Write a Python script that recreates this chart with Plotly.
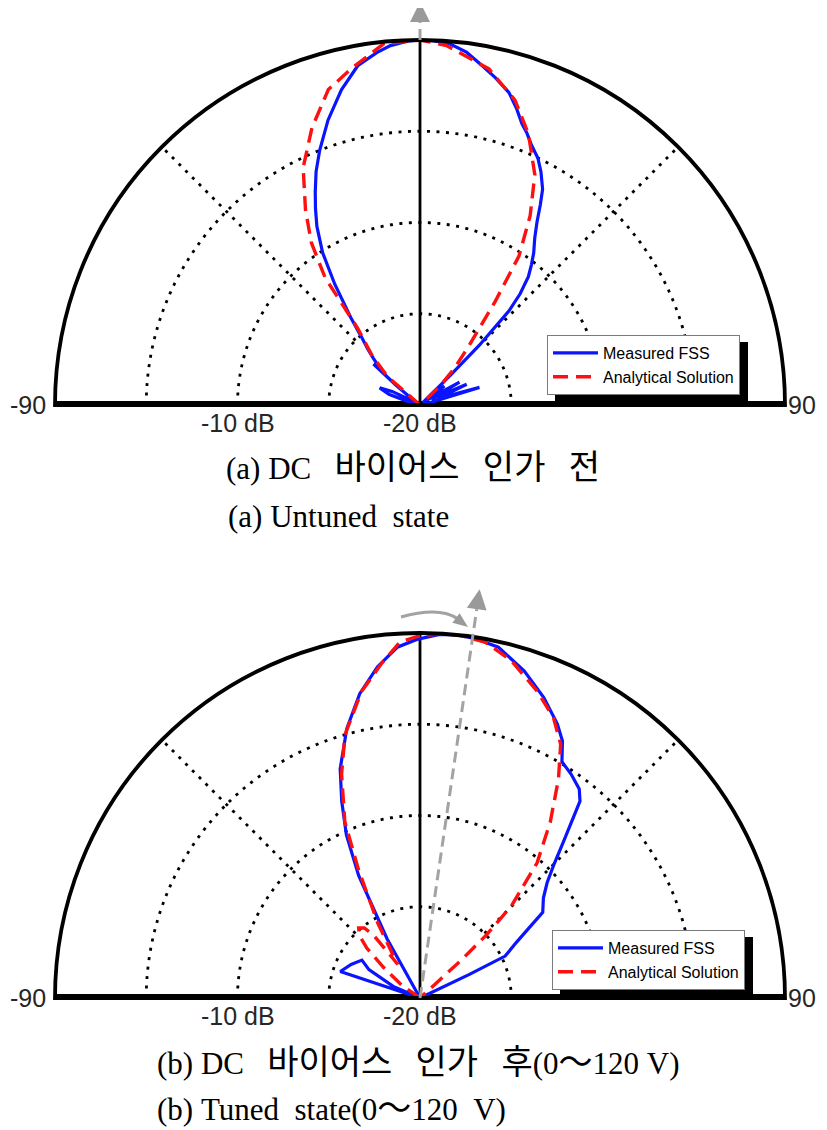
import math
import numpy as np
import plotly.graph_objects as go

# page is 827x1130; the html body adds an 8px margin, so the figure is drawn 8px in
PAGE_W, PAGE_H = 827, 1130
OX, OY = 8, 8
W, H = PAGE_W - OX, PAGE_H - OY

# ---------------- data (angle in degrees, level in dB) ----------------
theta_untuned_meas = [-90, -78, -71, -67, -64, -60, -54, -50.5, -48.6, -47.8,
                      -45, -43, -40.5, -38.4, -35.2, -32.6, -30, -28, -26.2, -24,
                      -21.5, -17.9, -14, -10.4, -7, -4.7, -2, 0, 2, 4.7,
                      7.5, 10.4, 13, 15.9, 18, 19.9, 21.5, 23.2, 25.5, 27.4,
                      29.6, 31, 32.6, 34.5, 36.8, 38.5, 40.2, 42, 43.4, 44.8,
                      45.7, 48, 52, 55, 60, 63, 66, 70, 73.5, 77, 90]
db_untuned_meas = [-20, -19.6, -18.2, -17.6, -18.3, -19.6, -19.6, -18.3, -16.6, -17.1,
                   -16.4, -15.8, -15.0, -13.9, -11.9, -10.1, -8.7, -7.8, -7.0, -6.0,
                   -5.0, -3.6, -2.2, -1.1, -0.55, -0.24, -0.05, 0, -0.03, -0.14,
                   -0.5, -1.1, -1.6, -2.2, -2.9, -3.6, -4.0, -4.5, -5.0, -5.6,
                   -6.4, -7.2, -8.1, -8.9, -9.6, -10.2, -10.8, -11.8, -12.9, -15.4,
                   -17.7, -19.8, -18.3, -19.5, -17.5, -19.3, -17.2, -19.0, -16.6, -19.5, -20]

theta_untuned_calc = [-90, -53, -48.7, -44, -39.1, -36.7, -33.8, -30.4, -26.2, -21.3,
                      -16.2, -11.6, -5.7, 0, 4.2, 11.6, 17.3, 21.8, 26.5, 30.2,
                      33.6, 36.0, 39.6, 43, 46.6, 50, 90]
db_untuned_calc = [-20, -20, -17.6, -16.2, -14.6, -11.3, -9.3, -7.6, -5.5, -3.7,
                   -2.0, -1.2, -0.1, 0, -0.25, -1.2, -2.5, -4.0, -5.9, -8.0,
                   -10.2, -13.0, -15.8, -17.2, -18.5, -20, -20]

theta_tuned_meas = [-90, -72, -71.6, -64, -56.9, -61, -66.5, -68, -31, -29.1,
                    -26.6, -24.3, -21.7, -19.2, -15.2, -11.2, -7.3, -3.7, -0.5, 3.1,
                    5.6, 8.8, 12.6, 17.7, 22.4, 26.6, 29, 31, 34, 37.3,
                    39.1, 42.6, 45, 47.8, 51, 55.1, 57.5, 60, 63.8, 64.5,
                    65, 90]
db_tuned_meas = [-20, -20, -15.4, -15.8, -16.2, -16.8, -18.4, -20, -20, -16.3,
                 -12.5, -10.2, -8.4, -6.7, -4.7, -3.0, -1.7, -0.74, -0.35, -0.05,
                 0, -0.08, -0.3, -1.2, -2.2, -3.2, -3.9, -4.9, -5.2, -5.6,
                 -6.1, -8.4, -9.6, -10.6, -11.3, -11.8, -13.0, -13.9, -14.8, -17.0,
                 -20, -20]

theta_tuned_calc = [-90, -58, -55, -50, -46.8, -44, -41.2, -38.5, -36.5, -35,
                    -33.5, -32, -29.4, -25.6, -23.1, -19.3, -15.9, -10.8, -6.7, -3.2,
                    0, 3, 6.2, 10.4, 15.1, 20.9, 25.5, 29.0, 32.3, 36.5,
                    40.9, 44.8, 46.5, 47.5, 48.5, 90]
db_tuned_calc = [-20, -20, -18.8, -17.4, -16.0, -15.2, -14.9, -15.1, -15.7, -17.0,
                 -17.8, -17.2, -15.3, -12.2, -9.5, -7.0, -5.0, -2.9, -1.6, -0.46,
                 -0.15, -0.03, 0, -0.18, -0.84, -2.0, -3.0, -4.1, -5.8, -8.0,
                 -10.2, -12.9, -15.0, -17.0, -20, -20]

series_names = ["Measured FSS", "Analytical Solution"]
radial_range = [-20, 0]
ring_levels = [-15, -10, -5]
spoke_angles = [-45, 45]
radial_label_text = ["-10 dB", "-20 dB"]
radial_label_r = [-10, -20]
angle_label_text = ["-90", "90"]
beam_angle = [0, 8.3]          # steering direction shown by the grey arrow

NB = "\u00a0"
def ko(s):
    return '<span style="font-size:34px">' + s + '</span>'

captions_top = ["(a)" + NB + "DC" + NB * 3 + ko("바이어스") + NB * 3 + ko("인가") + NB * 3 + ko("전"),
                "(a)" + NB + "Untuned" + NB * 2 + "state"]
captions_bot = ["(b)" + NB + "DC" + NB * 3 + ko("바이어스") + NB * 3 + ko("인가") + NB * 3 + ko("후")
                + "(0" + ko("～") + "120" + NB + "V)",
                "(b)" + NB + "Tuned" + NB * 2 + "state(0" + ko("～") + "120" + NB * 2 + "V)"]

# ---------------- geometry (page pixels) ----------------
R_PX = 365
CX = 420
CY = [405, 998]


def paper(x, y):
    return (x - OX) / W, 1 - (y - OY) / H


def polar_domain(cy):
    xa, _ = paper(CX - R_PX, cy)
    xb, _ = paper(CX + R_PX, cy)
    _, ya = paper(CX, cy)
    _, yb = paper(CX, cy - R_PX)
    return dict(x=[xa, xb], y=[ya, yb])


fig = go.Figure()

LBL_FONT = dict(family="Liberation Sans, Arial, sans-serif", size=25, color="#262626")
DOT = "3px,6.5px"


def add_panel(subplot, legend, th_m, db_m, th_c, db_c):
    ring_theta = np.linspace(-90, 90, 361)
    for lv in ring_levels:
        fig.add_trace(go.Scatterpolar(r=[lv] * len(ring_theta), theta=ring_theta, mode="lines",
                                      line=dict(color="black", width=2.8, dash=DOT),
                                      subplot=subplot, showlegend=False, hoverinfo="skip"))
    for a in spoke_angles:
        fig.add_trace(go.Scatterpolar(r=[ring_levels[0], radial_range[1]], theta=[a, a], mode="lines",
                                      line=dict(color="black", width=2.8, dash=DOT),
                                      subplot=subplot, showlegend=False, hoverinfo="skip"))
    fig.add_trace(go.Scatterpolar(r=[radial_range[0], radial_range[1]], theta=[0, 0], mode="lines",
                                  line=dict(color="black", width=2.8),
                                  subplot=subplot, showlegend=False, hoverinfo="skip"))
    fig.add_trace(go.Scatterpolar(r=[0, -20, -20, 0], theta=[-90, -90, 90, 90], mode="lines",
                                  line=dict(color="black", width=8),
                                  subplot=subplot, showlegend=False, hoverinfo="skip"))
    fig.add_trace(go.Scatterpolar(r=db_m, theta=th_m, mode="lines", name=series_names[0],
                                  line=dict(color="#0a14ff", width=3.2),
                                  subplot=subplot, legend=legend))
    fig.add_trace(go.Scatterpolar(r=db_c, theta=th_c, mode="lines", name=series_names[1],
                                  line=dict(color="#ff1010", width=3.4, dash="15px,8px"),
                                  subplot=subplot, legend=legend))


add_panel("polar", "legend", theta_untuned_meas, db_untuned_meas, theta_untuned_calc, db_untuned_calc)
add_panel("polar2", "legend2", theta_tuned_meas, db_tuned_meas, theta_tuned_calc, db_tuned_calc)

polar_common = dict(
    sector=[0, 180], bgcolor="white",
    radialaxis=dict(range=radial_range, visible=False),
    angularaxis=dict(rotation=90, direction="clockwise", showline=True, linecolor="black",
                     linewidth=3.8, showgrid=False, ticks="", showticklabels=False),
)

# ---------------- grey arrows ----------------
shapes = []
GREY = "#a3a3a3"


def tri(tip, base, width):
    tx, ty = tip
    bx, by = base
    dx, dy = tx - bx, ty - by
    L = math.hypot(dx, dy)
    nx, ny = -dy / L, dx / L
    pts = [(tx, ty), (bx + nx * width / 2, by + ny * width / 2), (bx - nx * width / 2, by - ny * width / 2)]
    pp = [paper(*p) for p in pts]
    return "M {:.5f},{:.5f} L {:.5f},{:.5f} L {:.5f},{:.5f} Z".format(*pp[0], *pp[1], *pp[2])


arrow_start = [R_PX, 0]
arrow_len = [403, 413]
for i in range(2):
    a = math.radians(beam_angle[i])
    ux, uy = math.sin(a), -math.cos(a)
    cy = CY[i]
    tail = (CX + arrow_start[i] * ux, cy + arrow_start[i] * uy)
    base = (CX + (arrow_len[i] - 20) * ux, cy + (arrow_len[i] - 20) * uy)
    tip = (CX + arrow_len[i] * ux, cy + arrow_len[i] * uy)
    x0, y0 = paper(*tail)
    x1, y1 = paper(*base)
    shapes.append(dict(type="line", xref="paper", yref="paper", x0=x0, y0=y0, x1=x1, y1=y1,
                       line=dict(color=GREY, width=3, dash="11px,6px"), layer="above"))
    shapes.append(dict(type="path", xref="paper", yref="paper", path=tri(tip, base, 20),
                       fillcolor="#9a9a9a", line=dict(width=0), layer="above"))

# curved rotation arrow (tuned state)
p0, pc, p1 = (401, 617), (440, 606), (458, 619)
q = [paper(*p) for p in (p0, pc, p1)]
shapes.append(dict(type="path", xref="paper", yref="paper",
                   path="M {:.5f},{:.5f} Q {:.5f},{:.5f} {:.5f},{:.5f}".format(*q[0], *q[1], *q[2]),
                   line=dict(color=GREY, width=3), layer="above"))
shapes.append(dict(type="path", xref="paper", yref="paper", path=tri((468, 627), (456, 618), 12),
                   fillcolor="#9a9a9a", line=dict(width=0), layer="above"))

# legend drop shadows (legend box itself is drawn by plotly)
legend_box = [(547, 335, 193, 59), (552, 930, 193, 59)]
for (lx, ly, lw, lh) in legend_box:
    x0, y0 = paper(lx + 8, ly + 7)
    x1, y1 = paper(lx + lw + 8, ly + lh + 7)
    shapes.append(dict(type="rect", xref="paper", yref="paper", x0=x0, y0=y0, x1=x1, y1=y1,
                       fillcolor="black", line=dict(width=0), layer="above"))

leg_common = dict(xanchor="left", yanchor="top", bgcolor="white", bordercolor="#7a7a7a",
                  borderwidth=1, font=dict(family="Liberation Sans, Arial, sans-serif", size=16,
                                           color="black"),
                  tracegroupgap=0, itemwidth=45)

annotations = []
for i in range(2):
    # angle labels at the ends of the base line
    xl, yl = paper(CX - R_PX - 7, CY[i])
    xr, yr = paper(CX + R_PX + 33, CY[i])
    annotations.append(dict(text=angle_label_text[0], x=xl, y=yl, xref="paper", yref="paper",
                            xanchor="right", yanchor="middle", showarrow=False, font=LBL_FONT))
    annotations.append(dict(text=angle_label_text[1], x=xr, y=yr, xref="paper", yref="paper",
                            xanchor="right", yanchor="middle", showarrow=False, font=LBL_FONT))
    # radial level labels under the base line, on the -90 side
    for txt, rv in zip(radial_label_text, radial_label_r):
        dist = (rv - radial_range[0]) / (radial_range[1] - radial_range[0]) * R_PX
        px, py = paper(CX - dist, CY[i] + 18)
        annotations.append(dict(text=txt, x=px, y=py, xref="paper", yref="paper",
                                xanchor="center", yanchor="middle", showarrow=False, font=LBL_FONT))

# captions
CAP_FONT = dict(family="Liberation Serif, 'Noto Sans CJK KR', serif", size=31, color="black")
cap_pos = [(224, 468, captions_top[0]), (226, 517, captions_top[1]),
           (155, 1062, captions_bot[0]), (155, 1108, captions_bot[1])]
for (x, y, t) in cap_pos:
    px, py = paper(x, y)
    annotations.append(dict(text=t, x=px, y=py, xref="paper", yref="paper", xanchor="left",
                            yanchor="middle", showarrow=False, font=CAP_FONT))

fig.update_layout(
    width=W, height=H, margin=dict(l=0, r=0, t=0, b=0),
    paper_bgcolor="white", plot_bgcolor="white",
    polar=dict(domain=polar_domain(CY[0]), **polar_common),
    polar2=dict(domain=polar_domain(CY[1]), **polar_common),
    legend=dict(x=paper(547, 335)[0], y=paper(547, 335)[1], **leg_common),
    legend2=dict(x=paper(552, 930)[0], y=paper(552, 930)[1], **leg_common),
    shapes=shapes, annotations=annotations,
)

fig.write_html("out.html")
